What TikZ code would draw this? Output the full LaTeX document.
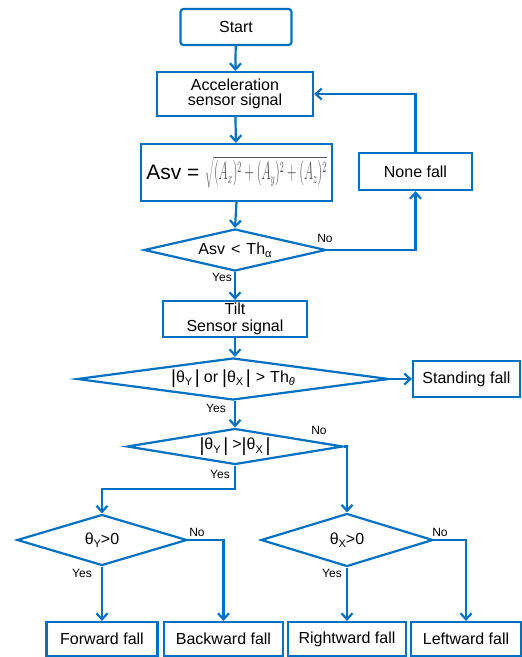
\documentclass[tikz,border=0pt]{standalone}
\usepackage{fontspec}
\setmainfont{Liberation Sans}
\usetikzlibrary{shapes.geometric,arrows.meta}
\definecolor{fblue}{RGB}{0,112,192}
\definecolor{fgray}{RGB}{85,85,85}
\newcommand\lsub[1]{\raisebox{-0.4ex}{\fontsize{11}{11}\selectfont #1}}
\newcommand\vbr{\raisebox{-1.5pt}{\fontsize{19}{19}\selectfont|}}
\tikzset{
  box/.style={draw=fblue, line width=2.2pt, rectangle, inner sep=0pt, font=\fontsize{16}{17}\selectfont, align=center},
  dec/.style={draw=fblue, line width=2.2pt, diamond, inner sep=0pt, font=\fontsize{16}{17}\selectfont},
  conn/.style={draw=fblue, line width=2.2pt, -{Straight Barb[length=6pt,width=11pt,line width=2.2pt]}},
  lab/.style={font=\fontsize{12}{12}\selectfont, inner sep=0pt}
}
\begin{document}
\begin{tikzpicture}[x=1pt,y=-1pt]
\useasboundingbox (0,0) rectangle (522,657);
% boxes
\node[box, rounded corners=3pt, minimum width=111pt, minimum height=36pt] (start) at (236,27) {Start};
\node[box, minimum width=156pt, minimum height=44pt] (acc) at (235,94) {Acceleration\\[-2pt]sensor signal};
\node[box, minimum width=191pt, minimum height=57pt] (asv) at (236.5,172.5) {\mbox{\fontsize{21}{22}\selectfont Asv =\hspace{6pt}\raisebox{0pt}{\color{fgray}\scalebox{0.86}[1.75]{\fontsize{13.5}{14}\selectfont$\sqrt{(A_x)^2+(A_y)^2+(A_z)^2}$}}}};
\node[box, minimum width=113pt, minimum height=37pt] (none) at (415.5,171.5) {None fall};
\node[dec, minimum width=182pt, minimum height=42pt, aspect=4.3] (d1) at (235,250) {\raisebox{-3pt}{Asv\hspace{6pt}<\hspace{6pt}Th\lsub{α}}};
\node[box, minimum width=144pt, minimum height=36pt] (tilt) at (235,319) {Tilt\\[-0.5pt]Sensor signal};
\node[dec, minimum width=312pt, minimum height=42pt, aspect=7.4] (d2) at (233,379) {\raisebox{-2pt}{\vbr θ\lsub{Y}\,\vbr\hspace{4pt}or\hspace{4pt}\vbr θ\lsub{X}\,\vbr\hspace{5pt}>\hspace{5pt}Th\lsub{\itshape θ}}};
\node[box, minimum width=107pt, minimum height=36pt] (stand) at (466.5,379) {Standing fall};
\node[dec, minimum width=216pt, minimum height=36pt, aspect=6] (d3) at (235,446.5) {\raisebox{-2pt}{\vbr θ\lsub{Y}\,\vbr\hspace{4pt}>\vbr θ\lsub{X}\,\vbr}};
\node[dec, minimum width=170pt, minimum height=51pt, aspect=3.3] (d4) at (102,540) {θ\lsub{Y}>0};
\node[dec, minimum width=172pt, minimum height=53pt, aspect=3.2] (d5) at (347,540) {θ\lsub{X}>0};
\node[box, minimum width=111pt, minimum height=34pt] (fwd) at (102,639) {Forward fall};
\node[box, minimum width=119pt, minimum height=34pt] (bwd) at (223.5,639) {Backward fall};
\node[box, minimum width=118pt, minimum height=34pt] (rgt) at (347,639) {Rightward fall};
\node[box, minimum width=110pt, minimum height=34pt] (lft) at (466,639) {Leftward fall};
% connectors
\draw[conn] (start) -- (acc);
\draw[conn] (acc) -- (asv);
\draw[conn] (asv.south) -- (d1.north);
\draw[conn] (d1.east) -| (none.south);
\draw[conn] (none.north) |- (acc.east);
\draw[conn] (d1.south) -- (tilt.north);
\draw[conn] (tilt.south) -- (d2.north -| tilt.south);
\draw[conn] (d2.east) -- (stand.west);
\draw[conn] (d2.south -| tilt.south) -- (d3.north);
\coordinate (j1) at (235,489);
\draw[conn] (d3.south) -- (j1) -| (d4.north);
\draw[conn] (d3.east) -| (d5.north);
\draw[conn] (d4.south) -- (fwd.north);
\draw[conn] (d4.east) -| (bwd.north);
\draw[conn] (d5.south) -- (rgt.north);
\draw[conn] (d5.east) -| (lft.north);
% labels
\node[lab] (n1) at (325,238) {No};
\node[lab] (y1) at (222,277) {Yes};
\node[lab] (y2) at (216,408) {Yes};
\node[lab] (n2) at (319,430) {No};
\node[lab] (y3) at (220,474) {Yes};
\node[lab] (n3) at (197,532) {No};
\node[lab] (y4) at (82,573) {Yes};
\node[lab] (n4) at (440,532) {No};
\node[lab] (y5) at (332,573) {Yes};
\end{tikzpicture}
\end{document}
